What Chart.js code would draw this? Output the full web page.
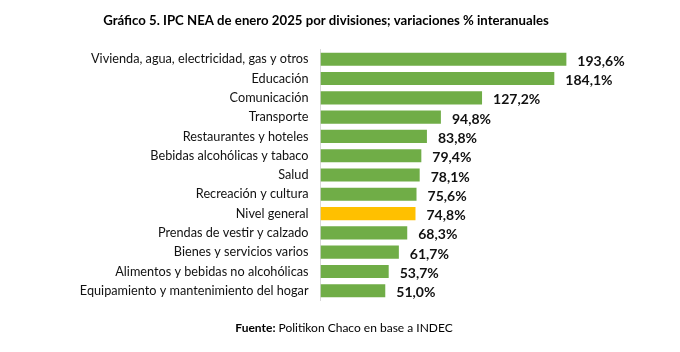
<!DOCTYPE html>
<html><head><meta charset="utf-8">
<script src="https://cdn.jsdelivr.net/npm/chart.js@4"></script>
<style>html,body{margin:0;padding:0;background:#fff}#wrap{width:680px;height:352px;position:relative}</style>
</head><body><div id="wrap"><canvas id="c"></canvas></div>
<script>
const categories = ["Vivienda, agua, electricidad, gas y otros","Educación","Comunicación","Transporte","Restaurantes y hoteles","Bebidas alcohólicas y tabaco","Salud","Recreación y cultura","Nivel general","Prendas de vestir y calzado","Bienes y servicios varios","Alimentos y bebidas no alcohólicas","Equipamiento y mantenimiento del hogar"];
const values = [193.6,184.1,127.2,94.8,83.8,79.4,78.1,75.6,74.8,68.3,61.7,53.7,51.0];
const highlight = "Nivel general";
const titleText = "Gráfico 5. IPC NEA de enero 2025 por divisiones; variaciones % interanuales";
const sourceBold = "Fuente:";
const sourceText = " Politikon Chaco en base a INDEC";

const FONT = "Lato, 'Open Sans', sans-serif";
const colors = categories.map(c => c === highlight ? "#FFC000" : "#70AD47");

const extras = {
  id: "extras",
  afterDatasetsDraw(chart) {
    const ctx = chart.ctx;
    const meta = chart.getDatasetMeta(0);
    ctx.save();
    ctx.fillStyle = "#111";
    ctx.font = "bold 14px " + FONT;
    ctx.textAlign = "left";
    ctx.textBaseline = "middle";
    meta.data.forEach((bar, i) => {
      const v = values[i].toFixed(1).replace(".", ",") + "%";
      ctx.fillText(v, bar.x + 11, bar.y + 2);
    });
    ctx.restore();
  },
  afterDraw(chart) {
    const ctx = chart.ctx;
    ctx.save();
    ctx.fillStyle = "#000";
    ctx.textBaseline = "middle";
    ctx.textAlign = "center";
    ctx.font = "bold 13.2px " + FONT;
    ctx.fillText(titleText, 326, 21);
    ctx.font = "bold 12px " + FONT;
    const w1 = ctx.measureText(sourceBold).width;
    ctx.font = "12px " + FONT;
    const w2 = ctx.measureText(sourceText).width;
    let x = 344 - (w1 + w2) / 2;
    ctx.textAlign = "left";
    ctx.font = "bold 12px " + FONT;
    ctx.fillText(sourceBold, x, 328);
    ctx.font = "12px " + FONT;
    ctx.fillText(sourceText, x + w1, 328);
    ctx.restore();
  }
};

new Chart(document.getElementById("c"), {
  type: "bar",
  data: { labels: categories, datasets: [{ data: values, backgroundColor: colors, borderWidth: 0, categoryPercentage: 1, barPercentage: 0.68 }] },
  options: {
    indexAxis: "y",
    responsive: true,
    maintainAspectRatio: false,
    animation: false,
    layout: { padding: { top: 49.6, bottom: 51.6, left: 0, right: 42 } },
    plugins: { legend: { display: false }, tooltip: { enabled: false }, title: { display: false } },
    scales: {
      x: { display: false, min: 0, max: 250 },
      y: {
        afterFit(s) { s.width = 320.5; },
        grid: { display: false, drawTicks: false },
        border: { display: true, color: "#d9d9d9", width: 1 },
        ticks: { color: "#111", font: { family: FONT, size: 12.7 }, padding: 12 }
      }
    }
  },
  plugins: [extras]
});
</script></body></html>
